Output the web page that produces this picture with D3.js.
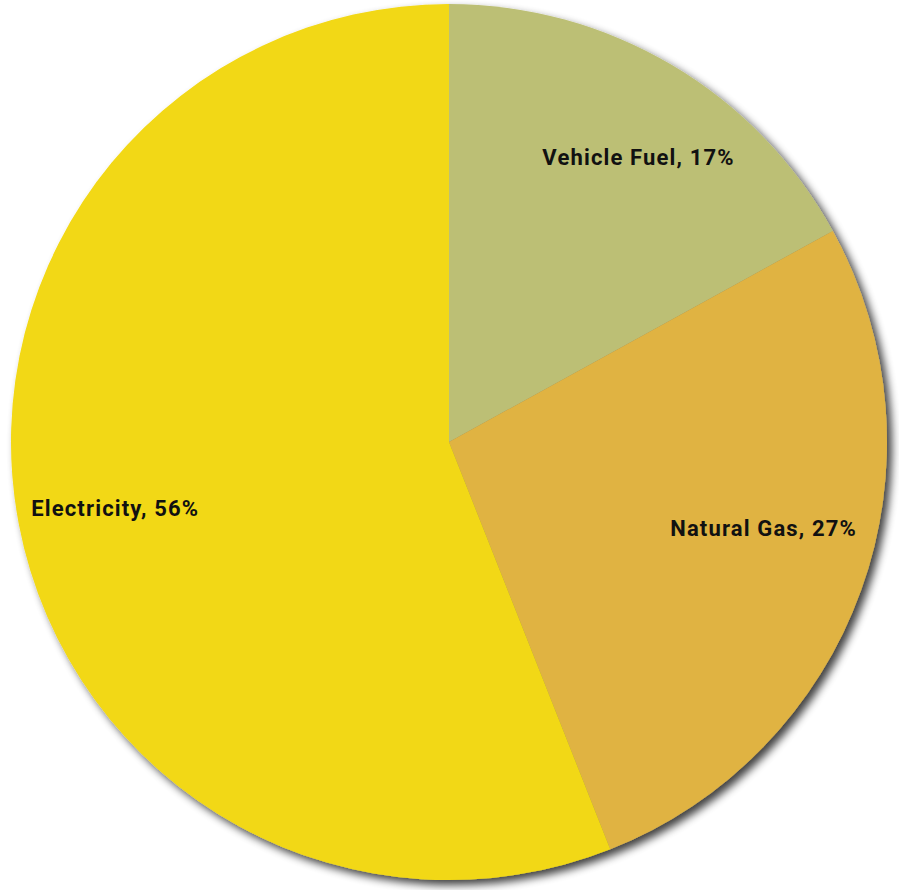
<!DOCTYPE html>
<html><head><meta charset="utf-8">
<script src="https://cdn.jsdelivr.net/npm/d3@7"></script>
<style>html,body{margin:0;padding:0;background:#fff;}svg{display:block;}</style>
</head><body>
<svg id="chart" width="899" height="890"></svg>
<script>
const categories = ["Vehicle Fuel", "Natural Gas", "Electricity"];
const values = [17, 27, 56];
const colors = ["#BCBF74", "#E0B343", "#F2D813"];
// label placement: angle (deg, clockwise from north) and radius fraction
const labelAngles = [33.7, 105.4, 258.8];
const labelRadii = [0.78, 0.745, 0.777];

const svg = d3.select("#chart");
const cx = 449, cy = 442, r = 438;

const defs = svg.append("defs");
const f = defs.append("filter").attr("id","shadow").attr("x","-10%").attr("y","-10%").attr("width","120%").attr("height","120%");
f.append("feGaussianBlur").attr("in","SourceAlpha").attr("stdDeviation",4).attr("result","b");
f.append("feOffset").attr("in","b").attr("dx",5).attr("dy",5).attr("result","o");
f.append("feComponentTransfer").attr("in","o").attr("result","s")
  .append("feFuncA").attr("type","linear").attr("slope",0.75);
const m = f.append("feMerge");
m.append("feMergeNode").attr("in","s");
m.append("feMergeNode").attr("in","SourceGraphic");

const g = svg.append("g").attr("transform",`translate(${cx},${cy})`);
const pie = d3.pie().sort(null).value(d => d);
const arcs = pie(values);
const arc = d3.arc().innerRadius(0).outerRadius(r);

const pg = g.append("g").attr("filter","url(#shadow)");
pg.selectAll("path").data(arcs).enter().append("path")
  .attr("d", arc).attr("fill", (d,i) => colors[i]);

g.selectAll("text.lbl").data(arcs).enter().append("text")
  .attr("class","lbl")
  .attr("x", (d,i) => Math.sin(labelAngles[i]*Math.PI/180) * r * labelRadii[i])
  .attr("y", (d,i) => -Math.cos(labelAngles[i]*Math.PI/180) * r * labelRadii[i])
  .attr("text-anchor","middle").attr("dominant-baseline","central")
  .attr("font-family","Roboto, 'DejaVu Sans', sans-serif").attr("font-weight",700)
  .attr("font-size",22).attr("letter-spacing",1.15).attr("fill","#111")
  .text((d,i) => `${categories[i]}, ${values[i]}%`);
</script>
</body></html>
